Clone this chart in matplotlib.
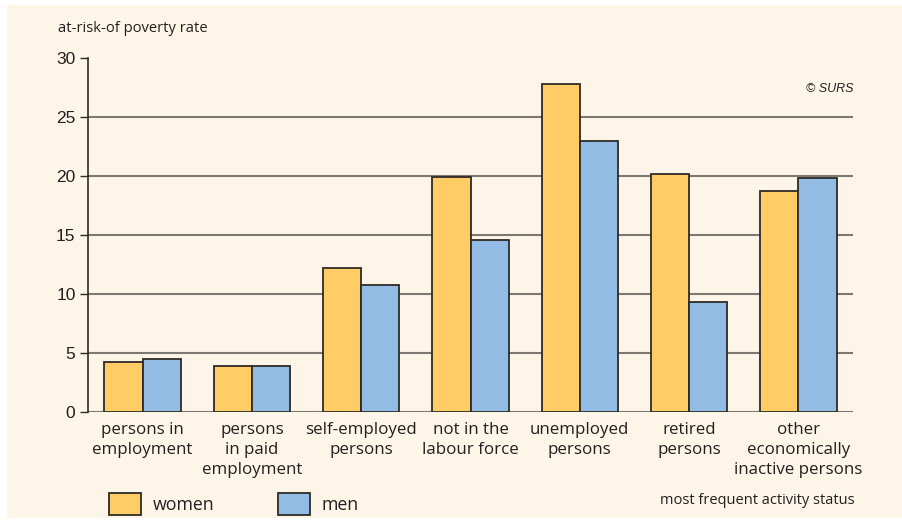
import matplotlib
matplotlib.use("Agg")
import matplotlib.pyplot as plt
from matplotlib.patches import Rectangle, Patch
import numpy as np

categories = ["persons in\nemployment", "persons\nin paid\nemployment", "self-employed\npersons",
              "not in the\nlabour force", "unemployed\npersons", "retired\npersons",
              "other\neconomically\ninactive persons"]
women = [4.2, 3.9, 12.2, 19.9, 27.8, 20.2, 18.7]
men = [4.5, 3.9, 10.8, 14.6, 23.0, 9.3, 19.8]
yticks = [0, 5, 10, 15, 20, 25, 30]

W_COL = "#FFCC66"
M_COL = "#93BCE4"
BG = "#FDF5E8"
EDGE = "#2e2a26"
GRID = "#7d7872"
TXT = "#231f20"

fig = plt.figure(figsize=(9.02, 5.23), dpi=100)
fig.patch.set_facecolor("white")
fig.add_artist(Rectangle((7/902, 5/523), (902-7)/902, (518-5)/523, transform=fig.transFigure,
                         facecolor=BG, edgecolor="none", zorder=0))

ax = fig.add_axes([88/902, 1-412/523, (853-88)/902, (412-58)/523])
ax.set_facecolor("none")

x = np.arange(len(categories))
bw = 0.35
ax.bar(x - bw/2, women, bw, color=W_COL, edgecolor=EDGE, linewidth=1.3, zorder=3)
ax.bar(x + bw/2, men, bw, color=M_COL, edgecolor=EDGE, linewidth=1.3, zorder=3)

for v in yticks[:-1]:
    ax.axhline(v, color=GRID, linewidth=1.5, zorder=1)

ax.set_xlim(-0.5, len(categories) - 0.5)
ax.set_ylim(0, 30)
ax.set_yticks(yticks)
ax.set_yticklabels([str(v) for v in yticks], fontfamily="Liberation Sans", fontsize=12.5, color=TXT)
ax.tick_params(axis="y", length=6, width=1.0, color=EDGE, pad=3)
ax.set_xticks(x)
ax.set_xticklabels(categories, fontfamily="Open Sans", fontsize=12.2, color=TXT, linespacing=1.33)
ax.tick_params(axis="x", length=0, pad=7)

for s in ["top", "right", "bottom"]:
    ax.spines[s].set_visible(False)
ax.spines["left"].set_color(EDGE)
ax.spines["left"].set_linewidth(1.2)

fig.text(58/902, 1-29/523, "at-risk-of poverty rate", fontfamily="Open Sans", fontsize=10.6,
         color=TXT, va="center", ha="left")
fig.text(853/902, 1-89/523, "© SURS", fontfamily="Liberation Sans", fontstyle="italic",
         fontsize=9, color=TXT, va="center", ha="right")
fig.text(855/902, 1-500/523, "most frequent activity status", fontfamily="Open Sans", fontsize=10.5,
         color=TXT, va="center", ha="right")

handles = [Patch(facecolor=W_COL, edgecolor=EDGE, linewidth=1.3, label="women"),
           Patch(facecolor=M_COL, edgecolor=EDGE, linewidth=1.3, label="men")]
leg = fig.legend(handles=handles, loc="center left", bbox_to_anchor=(100/902, 1-504/523), ncol=2,
                 frameon=False, prop={"family": "Open Sans", "size": 12.8}, handlelength=1.8,
                 handleheight=1.6, handletextpad=0.65, columnspacing=3.6, borderpad=0)
for t in leg.get_texts():
    t.set_color(TXT)

fig.savefig("out.png", dpi=100)
